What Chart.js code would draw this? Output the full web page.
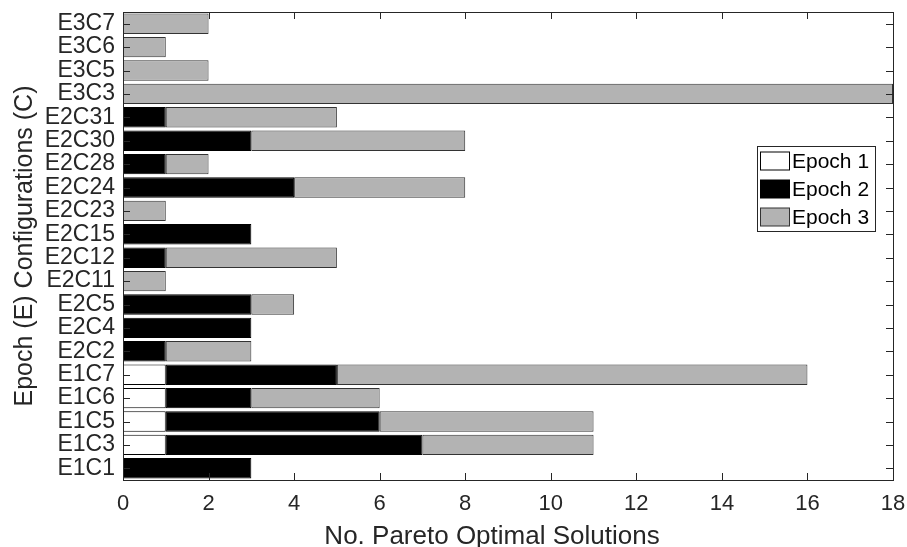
<!DOCTYPE html>
<html>
<head>
<meta charset="utf-8">
<script src="https://cdn.jsdelivr.net/npm/chart.js@4/dist/chart.umd.min.js"></script>
<style>
html,body{margin:0;padding:0;background:#fff;}
#wrap{width:907px;height:547px;position:relative;}
</style>
</head>
<body>
<div id="wrap"><canvas id="c" width="907" height="547"></canvas></div>
<script>
// Categories listed bottom to top
const categories = ["E1C1","E1C3","E1C5","E1C6","E1C7","E2C2","E2C4","E2C5","E2C11","E2C12","E2C15","E2C23","E2C24","E2C28","E2C30","E2C31","E3C3","E3C5","E3C6","E3C7"];
const epoch1 = [0,1,1,1,1,0,0,0,0,0,0,0,0,0,0,0,0,0,0,0];
const epoch2 = [3,6,5,2,4,1,3,3,0,1,3,0,4,1,3,1,0,0,0,0];
const epoch3 = [0,4,5,3,11,2,0,1,1,4,0,1,4,1,5,4,18,2,1,2];
const seriesNames = ["Epoch 1","Epoch 2","Epoch 3"];
const xTicks = [0,2,4,6,8,10,12,14,16,18];
const xTitle = 'No. Pareto Optimal Solutions';
const yTitle = 'Epoch (E) Configurations (C)';

const FONT = "'Liberation Sans', Arial, sans-serif";
const AX = '#262626';
const fills = ['#ffffff','#000000','#b3b3b3'];
const edges = ['#000000','#000000','#333333'];

const nz = a => a.map(v => v === 0 ? null : v);
const datasets = [epoch1, epoch2, epoch3].map((arr, i) => ({
  label: seriesNames[i],
  data: nz(arr),
  backgroundColor: fills[i],
  borderColor: edges[i],
  borderWidth: 1,
  borderSkipped: false,
  barPercentage: 0.87,
  categoryPercentage: 1.0
}));

const framePlugin = {
  id: 'frame',
  afterDatasetsDraw(chart) {
    const {ctx, chartArea: a, scales} = chart;
    const xs = scales.x, ys = scales.y;
    ctx.save();
    ctx.strokeStyle = AX;
    ctx.lineWidth = 1;
    ctx.beginPath();
    const L = 7;
    xTicks.forEach(v => {
      const px = Math.round(xs.getPixelForValue(v)) + 0.5;
      ctx.moveTo(px, a.bottom); ctx.lineTo(px, a.bottom - L);
      ctx.moveTo(px, a.top); ctx.lineTo(px, a.top + L);
    });
    categories.forEach((c, i) => {
      const py = Math.round(ys.getPixelForValue(i)) + 0.5;
      ctx.moveTo(a.left, py); ctx.lineTo(a.left + L, py);
      ctx.moveTo(a.right, py); ctx.lineTo(a.right - L, py);
    });
    ctx.stroke();
    ctx.strokeRect(Math.round(a.left) + 0.5, Math.round(a.top) + 0.5,
                   Math.round(a.right - a.left), Math.round(a.bottom - a.top));
    // x-axis title
    ctx.fillStyle = AX;
    ctx.font = '26px ' + FONT;
    ctx.textAlign = 'center';
    ctx.textBaseline = 'alphabetic';
    ctx.fillText(xTitle, 492, 544);
    // legend
    const lx = 757.5, ly = 146.5, lw = 118, lh = 85;
    ctx.fillStyle = '#fff';
    ctx.fillRect(lx, ly, lw, lh);
    ctx.strokeStyle = AX;
    ctx.strokeRect(lx, ly, lw, lh);
    ctx.font = '21px ' + FONT;
    ctx.textBaseline = 'middle';
    ctx.textAlign = 'left';
    chart.data.datasets.forEach((d, i) => {
      const cy = 161 + i * 28;
      ctx.fillStyle = d.backgroundColor;
      ctx.fillRect(760.5, cy - 9, 29, 18);
      ctx.strokeStyle = d.borderColor;
      ctx.strokeRect(760.5, cy - 9, 29, 18);
      ctx.fillStyle = '#000';
      ctx.fillText(d.label, 792, cy + 1);
    });
    ctx.restore();
  }
};

new Chart(document.getElementById('c'), {
  type: 'bar',
  data: { labels: categories, datasets },
  options: {
    indexAxis: 'y',
    responsive: false,
    animation: false,
    layout: { padding: { top: 12, right: 14, bottom: 0, left: 0 } },
    plugins: { legend: { display: false }, tooltip: { enabled: false } },
    scales: {
      x: {
        type: 'linear', stacked: true, min: 0, max: 18,
        afterBuildTicks: s => { s.ticks = xTicks.map(v => ({value: v})); },
        afterFit: s => { s.height = 67; s.paddingLeft = 0; s.paddingRight = 0; },
        grid: { display: false, drawTicks: false },
        border: { display: false },
        ticks: { color: AX, font: { family: FONT, size: 22 }, padding: 11, maxRotation: 0 },
        title: { display: false }
      },
      y: {
        stacked: true, reverse: true,
        afterFit: s => { s.width = 123; s.paddingTop = 0; s.paddingBottom = 0; },
        grid: { display: false, drawTicks: false },
        border: { display: false },
        ticks: { color: AX, font: { family: FONT, size: 23 }, padding: 8, autoSkip: false },
        title: { display: true, text: yTitle, color: AX,
                 font: { family: FONT, size: 25 }, padding: { top: 10, bottom: 0 } }
      }
    }
  },
  plugins: [framePlugin]
});
</script>
</body>
</html>
